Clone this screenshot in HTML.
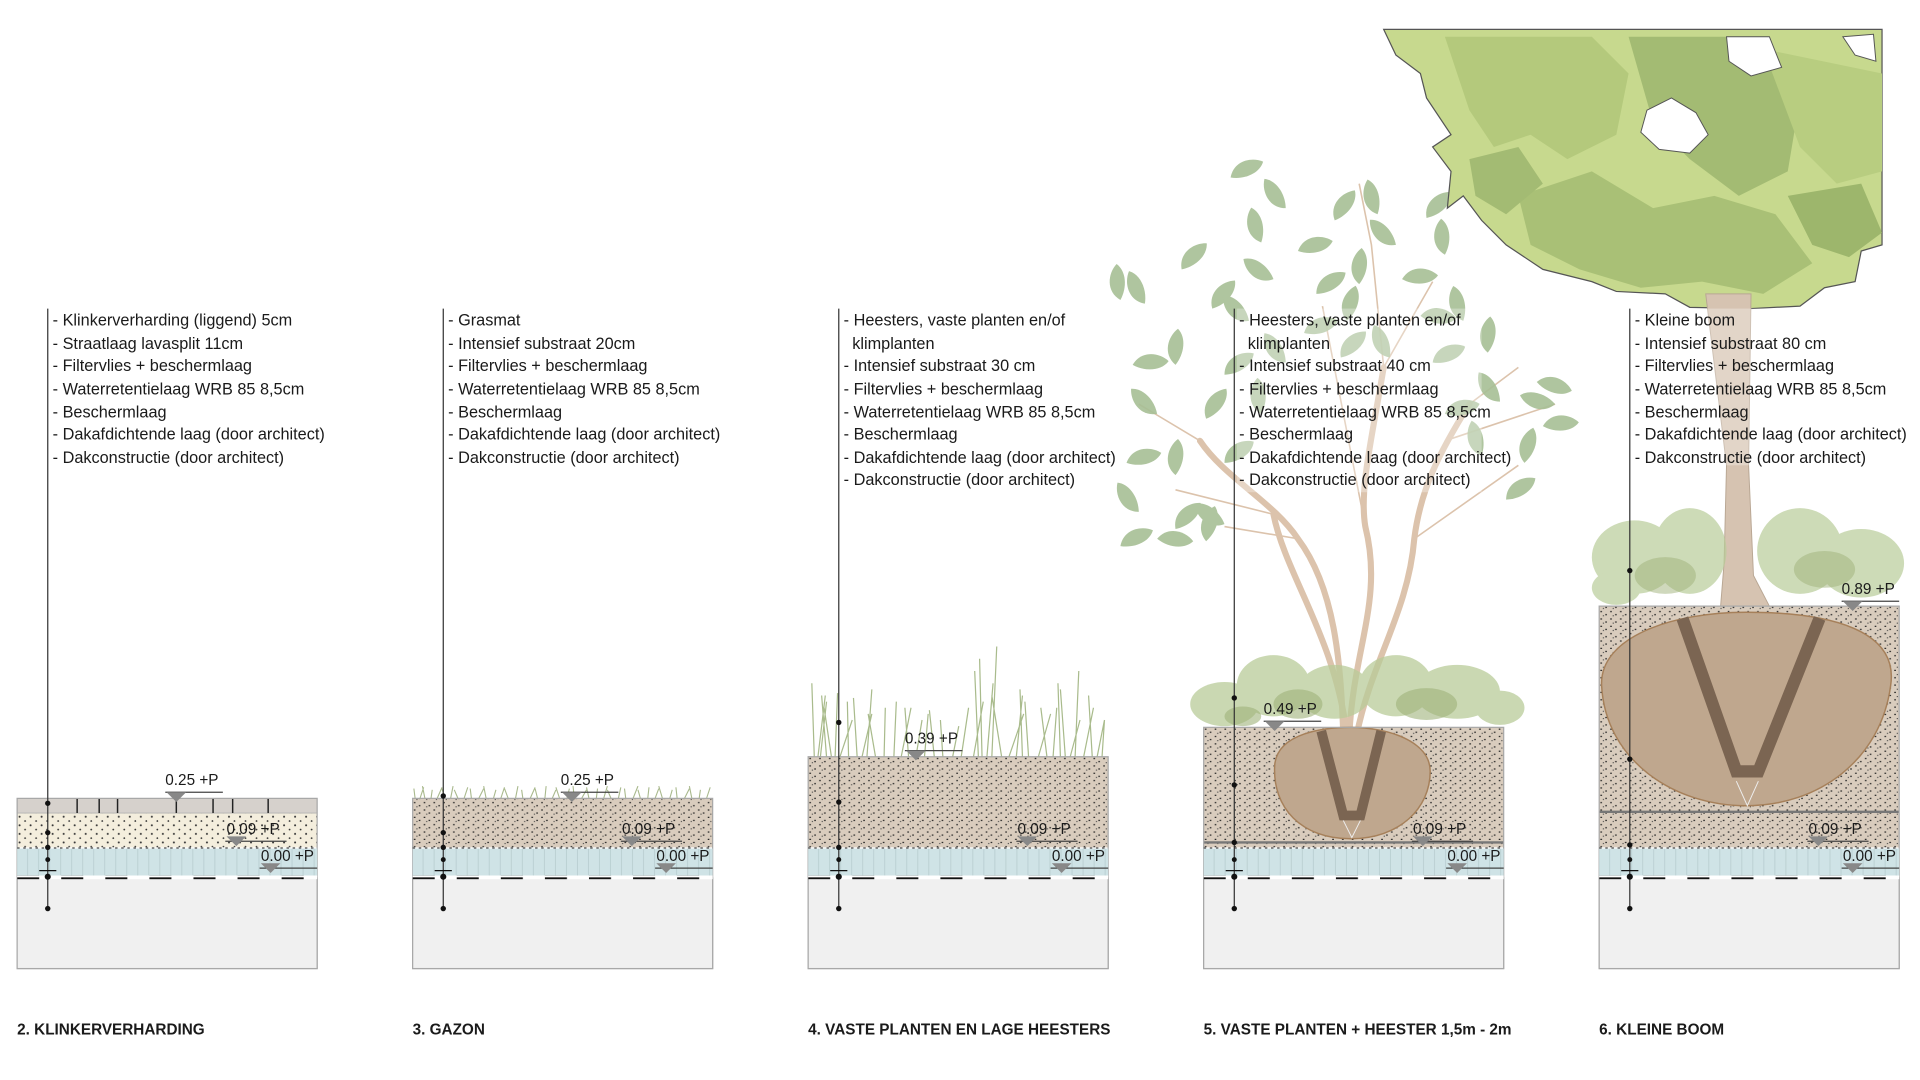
<!DOCTYPE html>
<html><head><meta charset="utf-8"><style>
html,body{margin:0;padding:0;background:#fff;width:1920px;height:1080px;overflow:hidden}
svg{display:block}
text{font-family:"Liberation Sans","DejaVu Sans",sans-serif;fill:#1a1a1a}
</style></head><body>
<svg width="1920" height="1080" viewBox="0 0 1568 882" preserveAspectRatio="none" xmlns="http://www.w3.org/2000/svg">
<defs>
<pattern id="sand" width="9" height="7" patternUnits="userSpaceOnUse"><rect width="9" height="7" fill="#f4eedd"/><circle cx="2" cy="2" r="0.8" fill="#333"/><circle cx="6.5" cy="5.5" r="0.7" fill="#333"/></pattern>
<pattern id="sub" width="8" height="6" patternUnits="userSpaceOnUse"><rect width="8" height="6" fill="#d9ccbd"/><rect x="1" y="1" width="1.3" height="1" fill="#222"/><rect x="5" y="3.5" width="1.3" height="1" fill="#222"/><rect x="3" y="4.5" width="1" height="0.8" fill="#444"/></pattern>
<pattern id="wrb" width="9" height="30" patternUnits="userSpaceOnUse"><rect width="9" height="30" fill="#cfe3e6"/><line x1="8.5" y1="0" x2="8.5" y2="30" stroke="#b5cacd" stroke-width="0.6"/></pattern>
<pattern id="memb" width="36" height="4" patternUnits="userSpaceOnUse"><rect width="36" height="4" fill="#fff"/><rect x="0" y="0.5" width="18" height="2.5" fill="#111"/></pattern>
<g id="base">
<rect x="0" y="717" width="245" height="74" fill="#f0f0f0" stroke="#a8a8a8" stroke-width="1"/>
<rect x="0" y="693" width="245" height="22" fill="url(#wrb)"/>
<line x1="0" y1="692.5" x2="245" y2="692.5" stroke="#666" stroke-width="1.2" stroke-dasharray="2 3"/>
<rect x="0" y="715" width="245" height="3" fill="url(#memb)"/>
<path d="M170 687h50" stroke="#444" stroke-width="1"/>
<path d="M171 683l8 8 8-8z" fill="#888"/>
<text x="171" y="681" font-size="12.5">0.09 +P</text>
<path d="M198 709h47" stroke="#444" stroke-width="1"/>
<path d="M199 705l8 8 8-8z" fill="#888"/>
<text x="199" y="703" font-size="12.5">0.00 +P</text>
</g>
<path id="tri" d="M0 0l8 8 8-8z" fill="#888"/>
<path id="lf" d="M0 0 C10 -6 16 -18 12 -27 C2 -24 -7 -12 0 0z"/>
</defs>

<!-- ========== COLUMN 2 ========== -->
<g transform="translate(14,0)">
<rect x="0" y="664" width="245" height="28" fill="url(#sand)"/>
<rect x="0" y="652" width="245" height="12" fill="#d6d1cc" stroke="#aaa" stroke-width="0.6"/>
<path d="M49 652v12M67 652v12M82 652v12M130 652v12M160 652v12M176 652v12M205 652v12" stroke="#222" stroke-width="1.2"/>
<rect x="0" y="652" width="245" height="139" fill="none" stroke="#a8a8a8"/>
<use href="#base"/>
<text x="121" y="641" font-size="12.5">0.25 +P</text>
<path d="M121 647h47" stroke="#444"/><use href="#tri" x="122" y="647"/>
</g>

<!-- ========== COLUMN 3 ========== -->
<g transform="translate(337,0)">
<rect x="0" y="652" width="245" height="40" fill="url(#sub)"/>
<g stroke="#a9b98d" stroke-width="0.9" fill="none">
<path d="M2 652l-1-8M6 652l3-9M10 652l-2-10M15 652l1-7M20 652l4-9M26 652l-2-8M31 652l2-10M37 652l-3-7M42 652l3-9M48 652l-1-8M54 652l4-8M60 652l-2-10M66 652l2-7M72 652l3-9M78 652l-3-8M84 652l2-10M90 652l-1-7M96 652l4-9M102 652l-2-8M108 652l1-10M114 652l3-7M120 652l-3-9M126 652l2-8M132 652l-1-10M138 652l4-7M144 652l-2-9M150 652l1-8M156 652l3-10M162 652l-3-7M168 652l2-9M174 652l-1-8M180 652l4-10M186 652l-2-7M192 652l1-9M198 652l3-8M204 652l-3-10M210 652l2-7M216 652l-1-9M222 652l4-8M228 652l-2-10M234 652l1-7M240 652l3-9"/>
</g>
<rect x="0" y="652" width="245" height="139" fill="none" stroke="#a8a8a8"/>
<use href="#base"/>
<text x="121" y="641" font-size="12.5">0.25 +P</text>
<path d="M121 647h47" stroke="#444"/><use href="#tri" x="122" y="647"/>
</g>

<!-- ========== COLUMN 4 ========== -->
<g transform="translate(660,0)">
<rect x="0" y="618" width="245" height="74" fill="url(#sub)"/>
<g stroke="#a9bb8c" stroke-width="1" fill="none">
<path d="M5 618l-2-60M8 618l6-50M10 618l5-45M15 618l-4-50M19 618l-6-40M22 618l2-52M26 618l10-30M33 618l-1-45M40 618l-3-48M44 618l8-35M48 618l4-55M55 618l-6-35M62 618l1-40M70 618l2-45M76 618l8-40M82 618l-3-40M88 618l5-30M95 618l3-35M103 618l-4-38M110 618l-2-30M118 618l5-25M125 618l6-40M135 618l8-45M139 618l-3-70M142 618l-2-80M146 618l5-60M150 618l4-90M158 618l-8-50M164 618l12-35M170 618l5-50M175 618l-2-55M180 618l-3-45M188 618l10-35M195 618l-5-40M200 618l3-40M206 618l-2-60M210 618l-4-55M214 618l8-30M218 618l3-70M225 618l8-40M232 618l-3-50M236 618l6-30M240 618l2-30"/>
</g>
<rect x="0" y="618" width="245" height="173" fill="none" stroke="#a8a8a8"/>
<use href="#base"/>
<text x="79" y="607" font-size="12.5">0.39 +P</text>
<path d="M79 613h47" stroke="#444"/><use href="#tri" x="80" y="613"/>
</g>

<!-- ========== COLUMN 5 shrub ========== -->
<g>
<g stroke="#dcc3ac" stroke-width="5" fill="none" stroke-linecap="round">
<path d="M1097 600 C1095 540 1090 480 1060 440 C1040 410 1000 390 980 360"/>
<path d="M1102 600 C1105 530 1130 490 1115 430 C1110 400 1120 360 1130 300"/>
<path d="M1108 600 C1120 540 1150 500 1155 440 C1160 400 1175 370 1200 330"/>
<path d="M1100 600 C1090 520 1050 470 1040 420"/>
</g>
<g stroke="#dcc3ac" stroke-width="1.3" fill="none">
<path d="M980 360 L930 330M1130 300L1120 200L1110 150M1200 330L1240 300M1040 420L960 400M1060 440L1000 430M1155 440L1240 380M1115 430L1080 250M1130 300L1170 230M1180 360L1270 330"/>
</g>
<g fill="#a7bf95" opacity="0.9">
<use href="#lf" transform="translate(1005,145) rotate(40)"/><use href="#lf" transform="translate(1050,170) rotate(-60)"/><use href="#lf" transform="translate(1090,180) rotate(10)"/><use href="#lf" transform="translate(1125,175) rotate(-40)"/>
<use href="#lf" transform="translate(965,220) rotate(20)"/><use href="#lf" transform="translate(1040,228) rotate(-80)"/><use href="#lf" transform="translate(1075,240) rotate(30)"/><use href="#lf" transform="translate(1110,232) rotate(-20)"/><use href="#lf" transform="translate(1145,228) rotate(60)"/><use href="#lf" transform="translate(1180,208) rotate(-30)"/>
<use href="#lf" transform="translate(935,248) rotate(-50)"/><use href="#lf" transform="translate(990,252) rotate(15)"/><use href="#lf" transform="translate(1020,262) rotate(-70)"/><use href="#lf" transform="translate(1065,272) rotate(45)"/><use href="#lf" transform="translate(1100,262) rotate(-10)"/><use href="#lf" transform="translate(1160,258) rotate(70)"/><use href="#lf" transform="translate(1195,262) rotate(-40)"/>
<use href="#lf" transform="translate(925,298) rotate(60)"/><use href="#lf" transform="translate(960,298) rotate(-20)"/><use href="#lf" transform="translate(1000,306) rotate(30)"/><use href="#lf" transform="translate(1050,296) rotate(-60)"/><use href="#lf" transform="translate(1095,292) rotate(20)"/><use href="#lf" transform="translate(1135,292) rotate(-50)"/><use href="#lf" transform="translate(1170,296) rotate(40)"/><use href="#lf" transform="translate(1215,288) rotate(-20)"/>
<use href="#lf" transform="translate(945,338) rotate(-70)"/><use href="#lf" transform="translate(985,342) rotate(10)"/><use href="#lf" transform="translate(1030,338) rotate(-30)"/><use href="#lf" transform="translate(1180,338) rotate(50)"/><use href="#lf" transform="translate(1225,328) rotate(-60)"/><use href="#lf" transform="translate(1255,312) rotate(80)"/><use href="#lf" transform="translate(1270,330) rotate(-100)"/>
<use href="#lf" transform="translate(920,378) rotate(50)"/><use href="#lf" transform="translate(960,388) rotate(-20)"/><use href="#lf" transform="translate(1000,378) rotate(30)"/><use href="#lf" transform="translate(1210,372) rotate(-40)"/><use href="#lf" transform="translate(1260,348) rotate(60)"/><use href="#lf" transform="translate(1245,378) rotate(-10)"/>
<use href="#lf" transform="translate(930,418) rotate(-60)"/><use href="#lf" transform="translate(960,432) rotate(20)"/><use href="#lf" transform="translate(985,442) rotate(-10)"/><use href="#lf" transform="translate(915,446) rotate(40)"/><use href="#lf" transform="translate(1000,428) rotate(-80)"/><use href="#lf" transform="translate(945,440) rotate(70)"/>
<use href="#lf" transform="translate(1230,408) rotate(30)"/><use href="#lf" transform="translate(1030,198) rotate(-40)"/><use href="#lf" transform="translate(1165,178) rotate(20)"/><use href="#lf" transform="translate(1140,200) rotate(-70)"/><use href="#lf" transform="translate(1060,205) rotate(50)"/><use href="#lf" transform="translate(915,245) rotate(-30)"/>
</g>
<g fill="#b9cc99" opacity="0.75">
<ellipse cx="1000" cy="575" rx="28" ry="18"/><ellipse cx="1040" cy="560" rx="30" ry="25"/><ellipse cx="1090" cy="565" rx="30" ry="22"/><ellipse cx="1140" cy="560" rx="30" ry="25"/><ellipse cx="1190" cy="565" rx="35" ry="22"/><ellipse cx="1225" cy="578" rx="20" ry="14"/>
</g>
<g fill="#9fb27a" opacity="0.6"><ellipse cx="1060" cy="575" rx="20" ry="12"/><ellipse cx="1165" cy="575" rx="25" ry="13"/><ellipse cx="1015" cy="585" rx="15" ry="8"/></g>
</g>

<!-- ========== COLUMN 5 build-up ========== -->
<g transform="translate(983,0)">
<rect x="0" y="594" width="245" height="98" fill="url(#sub)"/>
<path d="M58 625 C60 598 100 594 120 594 C150 594 185 605 185 630 C185 660 160 685 120 685 C80 685 56 660 58 625z" fill="#bfa78e" stroke="#a6805a" stroke-width="1.2"/>
<path d="M96 597 L114 666 L128 666 L145 597" fill="none" stroke="#7b6552" stroke-width="8"/>
<path d="M114 670l7 14 7-14" stroke="#eee" fill="none" stroke-width="0.8"/>
<line x1="0" y1="688" x2="245" y2="688" stroke="#777" stroke-width="2"/>
<rect x="0" y="594" width="245" height="197" fill="none" stroke="#a8a8a8"/>
<use href="#base"/>
<text x="49" y="583" font-size="12.5">0.49 +P</text>
<path d="M49 589h47" stroke="#444"/><use href="#tri" x="50" y="589"/>
</g>

<!-- ========== COLUMN 6 tree ========== -->
<g>
<path d="M1130 24 L1537 24 L1537 200 L1520 205 L1515 230 L1490 235 L1470 250 L1430 252 L1380 251 L1360 240 L1320 238 L1300 230 L1260 220 L1230 200 L1210 180 L1195 160 L1182 170 L1185 140 L1170 120 L1185 110 L1165 80 L1160 60 L1140 45z" fill="#c7d98e" stroke="#555" stroke-width="1"/>
<path d="M1180 30 L1300 30 L1330 60 L1320 110 L1280 130 L1250 110 L1220 120 L1200 90z" fill="#b4c97c"/>
<path d="M1330 30 L1440 30 L1470 80 L1460 140 L1420 160 L1380 130 L1350 100z" fill="#a3bb73"/>
<path d="M1440 40 L1537 60 L1537 140 L1500 150 L1470 120z" fill="#b8cd80"/>
<path d="M1240 160 L1300 140 L1350 170 L1400 160 L1450 175 L1480 215 L1440 240 L1390 230 L1340 235 L1290 220 L1250 200z" fill="#a9c076"/>
<path d="M1460 160 L1520 150 L1537 190 L1510 210 L1480 200z" fill="#9db66c"/>
<path d="M1200 130 L1240 120 L1260 150 L1230 175 L1205 160z" fill="#a3bb73"/>
<path d="M1345 90 L1365 80 L1385 92 L1395 110 L1380 125 L1355 122 L1340 108z" fill="#fff" stroke="#555" stroke-width="0.8"/>
<path d="M1410 30 L1445 30 L1455 55 L1430 62 L1412 50z" fill="#fff" stroke="#555" stroke-width="0.8"/>
<path d="M1505 30 L1530 28 L1532 50 L1515 45z" fill="#fff" stroke="#555" stroke-width="0.8"/>
<path d="M1393 240 L1430 240 L1428 380 L1432 470 L1445 495 L1405 497 L1408 460 L1410 380z" fill="#d6c3b1" stroke="#b9a794" stroke-width="0.8"/>
<g fill="#b9cc99" opacity="0.7">
<ellipse cx="1335" cy="455" rx="35" ry="30"/><ellipse cx="1380" cy="450" rx="30" ry="35"/><ellipse cx="1470" cy="450" rx="35" ry="35"/><ellipse cx="1520" cy="460" rx="35" ry="28"/><ellipse cx="1320" cy="480" rx="20" ry="14"/>
</g>
<g fill="#9fb27a" opacity="0.5"><ellipse cx="1360" cy="470" rx="25" ry="15"/><ellipse cx="1490" cy="465" rx="25" ry="15"/></g>
</g>
<g transform="translate(1306,0)">
<rect x="0" y="495" width="245" height="197" fill="url(#sub)"/>
<path d="M2 560 C0 520 60 500 120 500 C190 500 245 515 238 560 C230 620 180 658 120 658 C60 658 5 620 2 560z" fill="#bfa78e" stroke="#a6805a" stroke-width="1.2"/>
<path d="M68 505 L112 630 L130 630 L180 505" fill="none" stroke="#7b6552" stroke-width="10"/>
<path d="M112 638l9 20 9-20" stroke="#eee" fill="none" stroke-width="0.8"/>
<line x1="0" y1="663" x2="245" y2="663" stroke="#777" stroke-width="2"/>
<rect x="0" y="495" width="245" height="296" fill="none" stroke="#a8a8a8"/>
<use href="#base"/>
<text x="198" y="485" font-size="12.5">0.89 +P</text>
<path d="M198 491h47" stroke="#444"/><use href="#tri" x="199" y="491"/>
</g>

<!-- ========== leader lines ========== -->
<g stroke="#333" stroke-width="1">
<line x1="39" y1="252" x2="39" y2="742"/>
<line x1="362" y1="252" x2="362" y2="742"/>
<line x1="685" y1="252" x2="685" y2="742"/>
<line x1="1008" y1="252" x2="1008" y2="742"/>
<line x1="1331" y1="252" x2="1331" y2="742"/>
</g>
<g fill="#111">
<circle cx="39" cy="656" r="2.2"/><circle cx="39" cy="680" r="2.2"/><circle cx="39" cy="692" r="2.2"/><circle cx="39" cy="702" r="2"/><circle cx="39" cy="716" r="2.5"/><circle cx="39" cy="742" r="2.2"/>
<circle cx="362" cy="650" r="2.2"/><circle cx="362" cy="680" r="2.2"/><circle cx="362" cy="692" r="2.2"/><circle cx="362" cy="702" r="2"/><circle cx="362" cy="716" r="2.5"/><circle cx="362" cy="742" r="2.2"/>
<circle cx="685" cy="590" r="2.2"/><circle cx="685" cy="655" r="2.2"/><circle cx="685" cy="692" r="2.2"/><circle cx="685" cy="702" r="2"/><circle cx="685" cy="716" r="2.5"/><circle cx="685" cy="742" r="2.2"/>
<circle cx="1008" cy="570" r="2.2"/><circle cx="1008" cy="641" r="2.2"/><circle cx="1008" cy="688" r="2.2"/><circle cx="1008" cy="702" r="2"/><circle cx="1008" cy="716" r="2.5"/><circle cx="1008" cy="742" r="2.2"/>
<circle cx="1331" cy="466" r="2.2"/><circle cx="1331" cy="620" r="2.2"/><circle cx="1331" cy="690" r="2.2"/><circle cx="1331" cy="702" r="2"/><circle cx="1331" cy="716" r="2.5"/><circle cx="1331" cy="742" r="2.2"/>
</g>
<g stroke="#111" stroke-width="1"><path d="M32 711h14M355 711h14M678 711h14M1001 711h14M1324 711h14"/></g>

<!-- ========== text ========== -->
<g font-size="13.3">
<text x="43" y="266">- Klinkerverharding  (liggend) 5cm</text>
<text x="43" y="285">- Straatlaag lavasplit 11cm</text>
<text x="43" y="303">- Filtervlies + beschermlaag</text>
<text x="43" y="322">- Waterretentielaag WRB 85  8,5cm</text>
<text x="43" y="341">- Beschermlaag</text>
<text x="43" y="359">- Dakafdichtende laag (door architect)</text>
<text x="43" y="378">- Dakconstructie (door architect)</text>

<text x="366" y="266">- Grasmat</text>
<text x="366" y="285">- Intensief substraat 20cm</text>
<text x="366" y="303">- Filtervlies + beschermlaag</text>
<text x="366" y="322">- Waterretentielaag WRB 85 8,5cm</text>
<text x="366" y="341">- Beschermlaag</text>
<text x="366" y="359">- Dakafdichtende laag (door architect)</text>
<text x="366" y="378">- Dakconstructie (door architect)</text>

<text x="689" y="266">- Heesters, vaste planten en/of</text>
<text x="696" y="285">klimplanten</text>
<text x="689" y="303">- Intensief substraat 30 cm</text>
<text x="689" y="322">- Filtervlies + beschermlaag</text>
<text x="689" y="341">- Waterretentielaag WRB 85 8,5cm</text>
<text x="689" y="359">- Beschermlaag</text>
<text x="689" y="378">- Dakafdichtende laag (door architect)</text>
<text x="689" y="396">- Dakconstructie (door architect)</text>
</g>
<rect x="1010" y="252" width="200" height="150" fill="#fff" opacity="0.3"/>
<g font-size="13.3">
<text x="1012" y="266">- Heesters, vaste planten en/of</text>
<text x="1019" y="285">klimplanten</text>
<text x="1012" y="303">- Intensief substraat 40 cm</text>
<text x="1012" y="322">- Filtervlies + beschermlaag</text>
<text x="1012" y="341">- Waterretentielaag WRB 85 8,5cm</text>
<text x="1012" y="359">- Beschermlaag</text>
<text x="1012" y="378">- Dakafdichtende laag (door architect)</text>
<text x="1012" y="396">- Dakconstructie (door architect)</text>
</g>
<rect x="1333" y="252" width="130" height="128" fill="#fff" opacity="0.3"/>
<g font-size="13.3">
<text x="1335" y="266">- Kleine boom</text>
<text x="1335" y="285">- Intensief substraat 80 cm</text>
<text x="1335" y="303">- Filtervlies + beschermlaag</text>
<text x="1335" y="322">- Waterretentielaag WRB 85 8,5cm</text>
<text x="1335" y="341">- Beschermlaag</text>
<text x="1335" y="359">- Dakafdichtende laag (door architect)</text>
<text x="1335" y="378">- Dakconstructie (door architect)</text>
</g>

<g font-size="12.5" font-weight="bold">
<text x="14" y="845">2. KLINKERVERHARDING</text>
<text x="337" y="845">3. GAZON</text>
<text x="660" y="845">4. VASTE PLANTEN EN LAGE HEESTERS</text>
<text x="983" y="845">5. VASTE PLANTEN + HEESTER 1,5m - 2m</text>
<text x="1306" y="845">6. KLEINE BOOM</text>
</g>
</svg>
</body></html>
